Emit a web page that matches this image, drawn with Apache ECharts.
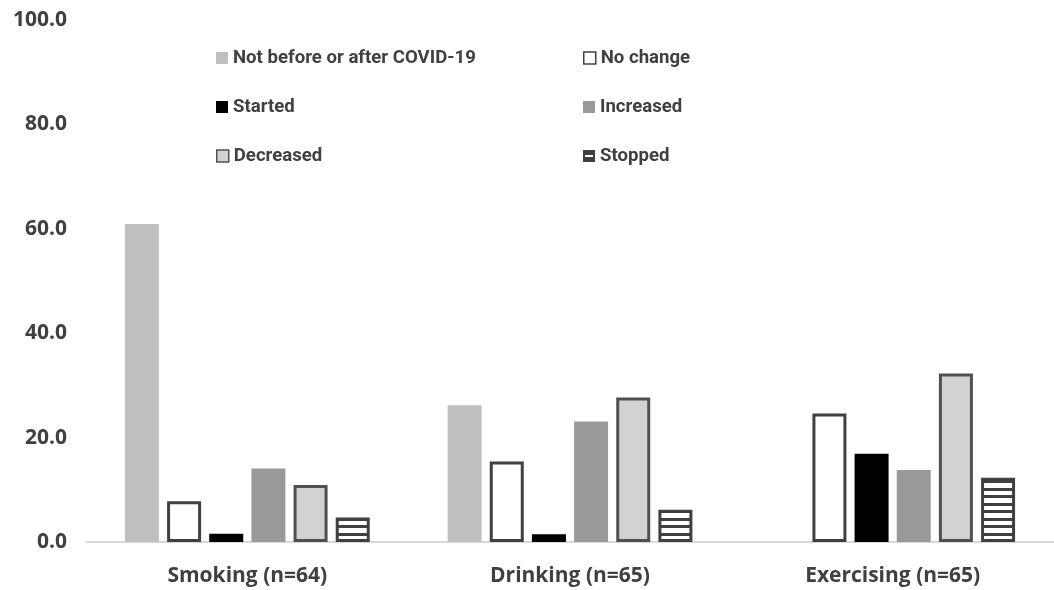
<!DOCTYPE html>
<html>
<head>
<meta charset="utf-8">
<script src="https://cdn.jsdelivr.net/npm/echarts@6/dist/echarts.min.js"></script>
<style>
  html, body { margin: 0; padding: 0; background: #ffffff; }
  #chart { width: 1054px; height: 590px; }
</style>
</head>
<body>
<div id="chart"></div>
<script>
// Health behaviours reported before/after COVID-19 (% of respondents)
const categories = ['Smoking (n=64)', 'Drinking (n=65)', 'Exercising (n=65)'];
const seriesNames = ['Not before or after COVID-19', 'No change', 'Started', 'Increased', 'Decreased', 'Stopped'];
const notBefore = [60.9, 26.2, 0];
const noChange  = [7.8, 15.4, 24.6];
const started   = [1.6, 1.5, 16.9];
const increased = [14.1, 23.1, 13.8];
const decreased = [10.9, 27.7, 32.3];
const stopped   = [4.7, 6.2, 12.3];
const valueSets = [notBefore, noChange, started, increased, decreased, stopped];

const DARK = '#404040';

// Horizontal stripe fill for the "Stopped" bars
function stripeCanvas() {
  const c = document.createElement('canvas');
  c.width = 8; c.height = 15;
  const g = c.getContext('2d');
  g.fillStyle = '#ffffff'; g.fillRect(0, 0, 8, 15);
  g.fillStyle = DARK;
  g.fillRect(0, 0, 8, 3);
  g.fillRect(0, 8, 8, 3);
  return c;
}
// Legend swatch for "Stopped": dark box with a white band
function stoppedIcon() {
  const c = document.createElement('canvas');
  c.width = 12; c.height = 12;
  const g = c.getContext('2d');
  g.fillStyle = DARK; g.fillRect(0, 0, 12, 12);
  g.fillStyle = '#ffffff'; g.fillRect(2, 5, 8, 2);
  return 'image://' + c.toDataURL();
}

const styles = [
  { color: '#bfbfbf' },
  { color: '#ffffff', borderColor: DARK, borderWidth: 3 },
  { color: '#000000' },
  { color: '#999999' },
  { color: '#d2d2d2', borderColor: '#505050', borderWidth: 3 },
  { color: { image: stripeCanvas(), repeat: 'repeat' }, borderColor: DARK, borderWidth: 3 }
];
const legendStyles = [
  { color: '#bfbfbf' },
  { color: '#ffffff', borderColor: DARK, borderWidth: 1.5 },
  { color: '#000000' },
  { color: '#999999' },
  { color: '#d2d2d2', borderColor: '#505050', borderWidth: 1.5 },
  null
];

const legendPos = [
  [216, 56], [583, 56],
  [216, 105], [583, 105],
  [216, 154], [583, 154]
];

const legendText = {
  fontFamily: 'Roboto, sans-serif',
  fontWeight: 'bold',
  fontSize: 18.6,
  color: DARK,
  lineHeight: 22
};

const chart = echarts.init(document.getElementById('chart'), null, { renderer: 'canvas' });

chart.setOption({
  backgroundColor: '#ffffff',
  animation: false,
  grid: { left: 86, top: 20, bottom: 48, width: 976 },
  legend: seriesNames.map((name, i) => ({
    data: [ i === 5
      ? { name, icon: stoppedIcon() }
      : { name, icon: 'rect', itemStyle: legendStyles[i] } ],
    left: legendPos[i][0],
    top: legendPos[i][1] - 9,
    padding: 0,
    itemWidth: 12,
    itemHeight: 12,
    selectedMode: false,
    textStyle: legendText
  })),
  xAxis: {
    type: 'category',
    data: categories,
    axisLine: { lineStyle: { color: '#d9d9d9', width: 2 } },
    axisTick: { show: false },
    axisLabel: {
      margin: 24,
      fontFamily: '"Open Sans", sans-serif',
      fontWeight: 'bold',
      fontSize: 21,
      color: DARK
    }
  },
  yAxis: {
    type: 'value',
    min: 0,
    max: 100,
    interval: 20,
    axisLine: { show: false },
    axisTick: { show: false },
    splitLine: { show: false },
    axisLabel: {
      margin: 19,
      fontFamily: '"Open Sans", sans-serif',
      fontWeight: 'bold',
      fontSize: 21,
      color: DARK,
      formatter: v => v.toFixed(1)
    }
  },
  series: seriesNames.map((name, i) => ({
    name,
    type: 'bar',
    data: valueSets[i],
    barWidth: 34,
    barGap: '24%',
    itemStyle: styles[i]
  }))
});
</script>
</body>
</html>
